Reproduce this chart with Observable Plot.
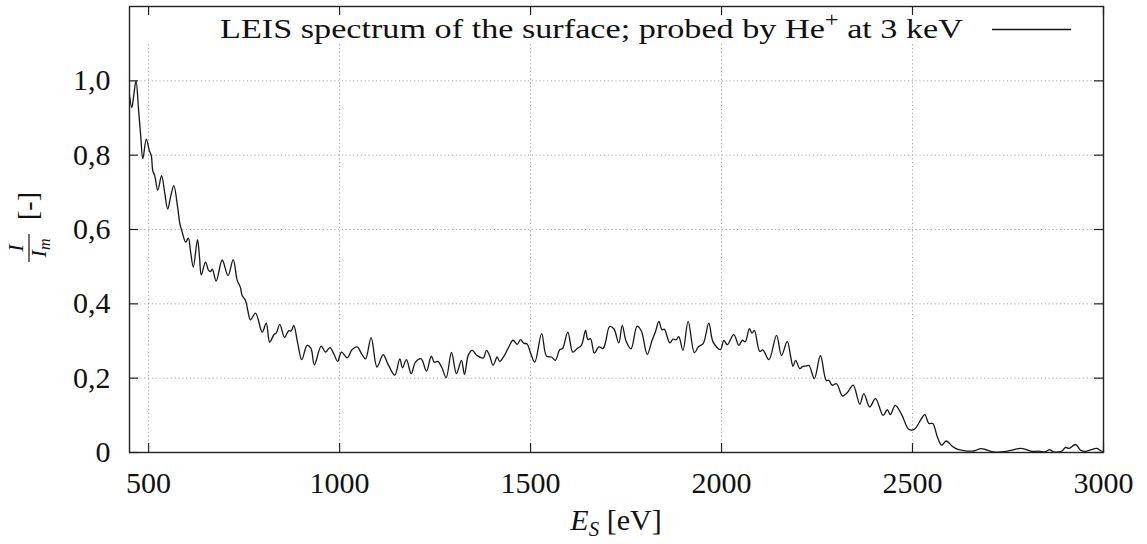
<!DOCTYPE html>
<html>
<head>
<meta charset="utf-8">
<script src="https://cdn.jsdelivr.net/npm/d3@7"></script>
<script src="https://cdn.jsdelivr.net/npm/@observablehq/plot@0.6"></script>
<style>
  html, body { margin: 0; padding: 0; background: #fff; }
  #chart svg { display: block; }
</style>
</head>
<body>
<div id="chart"></div>
<script>
// Energy of scattered He+ ions [eV]
const energy = [
  450, 456, 461, 467, 474, 479, 485, 494, 502, 507, 511, 516, 524, 534, 542, 550, 558, 566, 576, 582,
  588, 597, 604, 610, 617, 628, 633, 638, 649, 657, 662, 667, 677, 692.6, 708, 721.5, 732, 740, 745, 753.7,
  759.7, 766.8, 780, 797.4, 808, 817, 828, 834, 843.5, 855.8, 867, 873.5, 880, 890.6, 901, 915, 925, 934, 951.8, 963,
  974.5, 985, 995, 1005, 1020, 1033, 1046, 1058, 1068, 1082.6, 1098, 1114, 1128, 1144.6, 1157.7, 1164.7, 1175, 1187.5, 1198.7, 1213.6,
  1227.5, 1240, 1248, 1257, 1268, 1279, 1293, 1306, 1319, 1327, 1337, 1347, 1360, 1376, 1384.6, 1393, 1402, 1412.6, 1419, 1431,
  1443, 1454, 1465, 1473.6, 1482, 1491, 1500, 1511, 1529, 1542, 1555, 1565, 1576.6, 1584, 1597.5, 1610.6, 1622, 1633, 1644, 1650,
  1657, 1667, 1679, 1690, 1697, 1707, 1718, 1731, 1740, 1750, 1763, 1779, 1790, 1805.5, 1818, 1827, 1836, 1844, 1850, 1864.6,
  1873, 1881, 1888, 1899, 1912.6, 1929, 1940, 1952, 1966.6, 1978, 1997, 2006, 2015, 2032, 2045.6, 2054, 2062, 2073, 2080, 2086,
  2100, 2108, 2124, 2144, 2157, 2172, 2181, 2187, 2194, 2205, 2213, 2221.5, 2229, 2243, 2259, 2274, 2281, 2289.5, 2301, 2317,
  2330, 2344.6, 2362, 2372.6, 2388, 2403, 2423, 2434, 2442, 2455, 2472.6, 2490, 2505, 2521, 2532, 2543, 2553, 2565, 2576, 2588,
  2604, 2617, 2634, 2660, 2679, 2695, 2713, 2740, 2761, 2783, 2800, 2813, 2830, 2848, 2859, 2868, 2891, 2900, 2910, 2927,
  2940, 2953, 2966, 2983, 2994, 3000
];
// Normalised intensity I / I_m [-]
const intensity = [
  0.96, 0.928, 0.96, 1.0, 0.919, 0.857, 0.791, 0.843, 0.812, 0.799, 0.758, 0.745, 0.706, 0.745, 0.70, 0.655, 0.69, 0.718, 0.66, 0.615,
  0.593, 0.566, 0.577, 0.54, 0.499, 0.573, 0.53, 0.478, 0.512, 0.49, 0.487, 0.493, 0.461, 0.518, 0.476, 0.519, 0.463, 0.445, 0.4225, 0.409,
  0.382, 0.357, 0.375, 0.324, 0.348, 0.297, 0.317, 0.321, 0.345, 0.31, 0.328, 0.327, 0.342, 0.293, 0.25, 0.288, 0.28, 0.236, 0.286, 0.27,
  0.282, 0.265, 0.245, 0.27, 0.255, 0.277, 0.284, 0.265, 0.252, 0.309, 0.23, 0.263, 0.235, 0.208, 0.252, 0.228, 0.25, 0.212, 0.243, 0.252,
  0.219, 0.259, 0.243, 0.245, 0.228, 0.2015, 0.269, 0.212, 0.248, 0.21, 0.262, 0.275, 0.261, 0.254, 0.275, 0.26, 0.2345, 0.257, 0.245, 0.26,
  0.284, 0.302, 0.291, 0.3035, 0.294, 0.292, 0.2675, 0.243, 0.32, 0.259, 0.257, 0.248, 0.277, 0.28, 0.324, 0.27, 0.28, 0.288, 0.3285, 0.304,
  0.306, 0.2675, 0.284, 0.28, 0.3, 0.339, 0.333, 0.295, 0.342, 0.30, 0.279, 0.340, 0.327, 0.264, 0.3016, 0.325, 0.3527, 0.33, 0.332, 0.295,
  0.305, 0.303, 0.312, 0.275, 0.3527, 0.2686, 0.285, 0.293, 0.348, 0.297, 0.2767, 0.3016, 0.29, 0.317, 0.288, 0.302, 0.298, 0.333, 0.321, 0.3285,
  0.272, 0.276, 0.25, 0.315, 0.261, 0.299, 0.258, 0.232, 0.248, 0.2256, 0.232, 0.2326, 0.234, 0.199, 0.261, 0.194, 0.194, 0.181, 0.185, 0.152,
  0.162, 0.181, 0.13, 0.1585, 0.1225, 0.145, 0.1, 0.115, 0.102, 0.127, 0.1, 0.0626, 0.0626, 0.087, 0.102, 0.078, 0.078, 0.042, 0.0196, 0.031,
  0.017, 0.009, 0.005, 0.004, 0.0105, 0.0065, 0.0016, 0.002, 0.0065, 0.011, 0.007, 0.003, 0.0035, 0.002, 0.008, 0.002, 0.0036, 0.0134, 0.011, 0.0215,
  0.006, 0.003, 0.007, 0.011, 0.004, 0.003
];
const xTicks = [500, 1000, 1500, 2000, 2500, 3000];
const yTicks = [0, 0.2, 0.4, 0.6, 0.8, 1.0];
const xGrid = [500, 1000, 1500, 2000, 2500];
const yGrid = [0.2, 0.4, 0.6, 0.8, 1.0];
const legendLabel = "LEIS spectrum of the surface; probed by He";

const data = energy.map((e, i) => ({e, v: intensity[i]}));
const fmtY = d => d === 0 ? "0" : d.toFixed(1).replace(".", ",");

const W = 1147, H = 544;
const mL = 129, mR = 44, mT = 6, mB = 92;
const gridStyle = {stroke: "#a6a6a6", strokeWidth: 1, strokeDasharray: "1.2,2.6"};
const innerH = H - mT - mB, innerW = W - mL - mR;
const tickLen = 9;

const chart = Plot.plot({
  width: W, height: H,
  marginLeft: mL, marginRight: mR, marginTop: mT, marginBottom: mB,
  x: {domain: [450, 3000]},
  y: {domain: [0, 1.2]},
  style: {fontFamily: "'Liberation Serif', serif", fontSize: "30px", color: "#111", background: "#fff"},
  marks: [
    Plot.ruleY(yGrid, gridStyle),
    Plot.ruleX(xGrid, {x: d => d, y1: 0, y2: 1.1, ...gridStyle}),
    Plot.line(data, {x: "e", y: "v", curve: "catmull-rom", stroke: "#161616", strokeWidth: 1.3}),
    Plot.tickX(xTicks, {x: d => d, insetTop: innerH - tickLen, stroke: "#222", strokeWidth: 1.2}),
    Plot.tickX(xTicks, {x: d => d, insetBottom: innerH - tickLen, stroke: "#222", strokeWidth: 1.2}),
    Plot.tickY(yTicks, {y: d => d, insetRight: innerW - tickLen, stroke: "#222", strokeWidth: 1.2}),
    Plot.tickY(yTicks, {y: d => d, insetLeft: innerW - tickLen, stroke: "#222", strokeWidth: 1.2}),
    Plot.frame({stroke: "#222", strokeWidth: 1.4}),
    Plot.axisX({ticks: xTicks, tickSize: 0, tickPadding: 19, label: null, tickFormat: d => String(d)}),
    Plot.axisY({ticks: yTicks, tickSize: 0, tickPadding: 19, label: null, tickFormat: fmtY})
  ]
});
document.getElementById("chart").appendChild(chart);

const svg = d3.select(chart);
const serif = "'Liberation Serif', serif";

// Legend (key) inside the frame: text stretched to the key's width, then the sample line
const legG = svg.append("g");
const leg = legG.append("text")
  .attr("x", 0).attr("y", 0).attr("text-anchor", "start")
  .attr("font-family", serif).attr("font-size", 28).attr("fill", "#111");
leg.append("tspan").text(legendLabel);
leg.append("tspan").attr("dy", -11).attr("font-size", 20).text("+");
leg.append("tspan").attr("dy", 11).text(" at 3 keV");
const natural = leg.node().getComputedTextLength() || 600;
legG.attr("transform", `translate(220,38) scale(${743 / natural},1)`);
svg.append("line")
  .attr("x1", 992).attr("x2", 1071).attr("y1", 29.5).attr("y2", 29.5)
  .attr("stroke", "#161616").attr("stroke-width", 1.3);

// X axis title: E_S [eV]
const xt = svg.append("text")
  .attr("x", mL + innerW / 2).attr("y", 530).attr("text-anchor", "middle")
  .attr("font-family", serif).attr("font-size", 30).attr("fill", "#111");
xt.append("tspan").attr("font-style", "italic").text("E");
xt.append("tspan").attr("font-style", "italic").attr("font-size", 21).attr("dy", 6).text("S");
xt.append("tspan").attr("dy", -6).text(" [eV]");

// Y axis title: I / I_m [-]
const yg = svg.append("g").attr("transform", "translate(29,248) rotate(-90)")
  .attr("font-family", serif).attr("fill", "#111");
yg.append("text").attr("x", 0).attr("y", -6).attr("text-anchor", "middle")
  .attr("font-size", 22).attr("font-style", "italic").text("I");
yg.append("line").attr("x1", -14).attr("x2", 14).attr("y1", 0).attr("y2", 0)
  .attr("stroke", "#111").attr("stroke-width", 1.2);
const den = yg.append("text").attr("x", 0).attr("y", 17).attr("text-anchor", "middle")
  .attr("font-size", 22).attr("font-style", "italic");
den.append("tspan").text("I");
den.append("tspan").attr("font-size", 16).attr("dy", 4).text("m");
yg.append("text").attr("x", 42).attr("y", 8).attr("text-anchor", "middle")
  .attr("font-size", 28).text("[-]");
</script>
</body>
</html>
